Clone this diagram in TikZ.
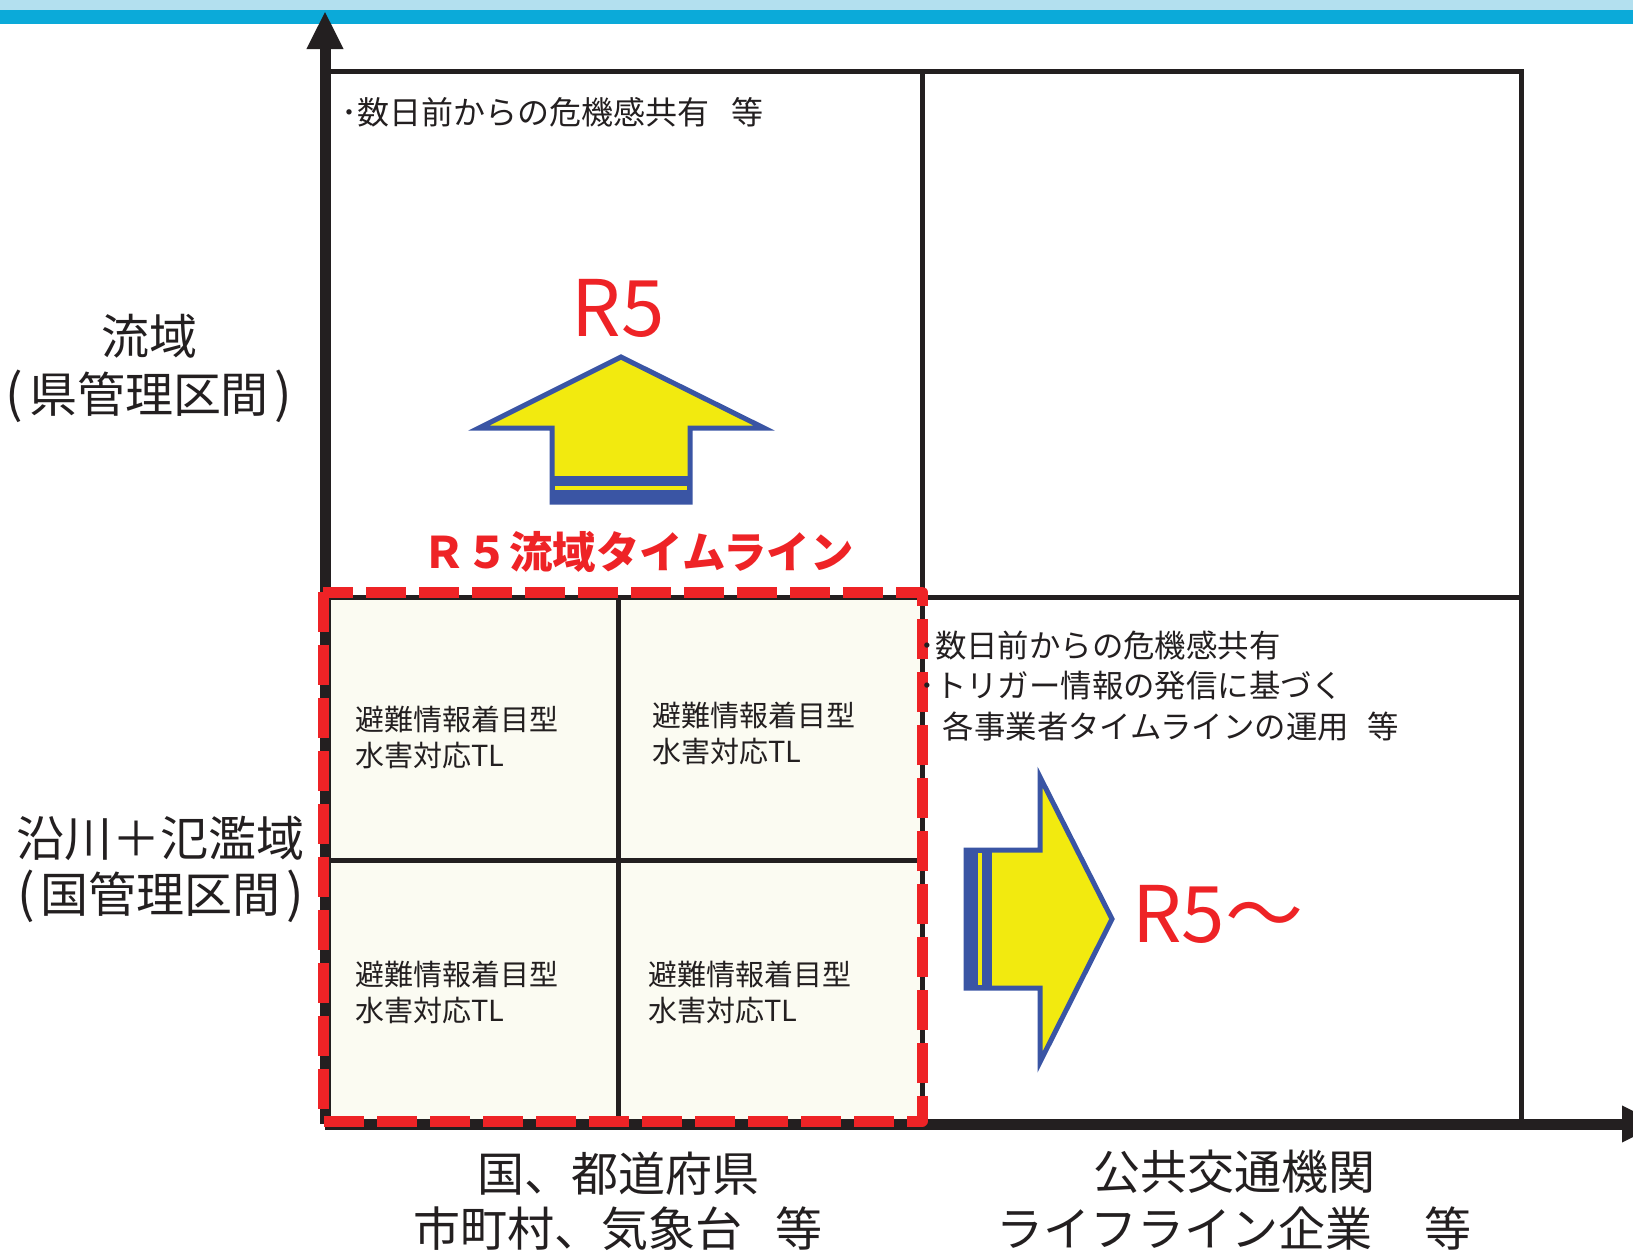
\documentclass[tikz,border=0pt]{standalone}
\usepackage{fontspec}
\setmainfont{Noto Sans CJK JP}
\usetikzlibrary{arrows.meta}
\definecolor{barlight}{HTML}{B3E0EF}
\definecolor{bardark}{HTML}{0BAAD9}
\definecolor{gridblack}{HTML}{231F20}
\definecolor{tlred}{HTML}{EE2326}
\definecolor{arrblue}{HTML}{3A55A4}
\definecolor{arryellow}{HTML}{F2EA0F}
\definecolor{cream}{HTML}{FBFBF2}
\newcommand{\lpar}{{\fontsize{26pt}{26pt}\selectfont (}\hspace{0.12em}}
\newcommand{\rpar}{\hspace{0.12em}{\fontsize{26pt}{26pt}\selectfont )}}
\tikzset{
  gridline/.style={line width=2.5pt, draw=gridblack},
  axisline/.style={line width=5.5pt, draw=gridblack, -{Triangle[length=19pt,width=17pt]}},
  redbox/.style={draw=tlred, line width=5.5pt, dash pattern=on 20pt off 6.5pt, line join=round},
  bigarrow/.style={draw=arrblue, fill=arryellow, line width=2.5pt, line join=miter},
  celltxt/.style={font=\fontsize{14.5pt}{18pt}\selectfont, align=left, anchor=west, inner sep=0pt, text=gridblack},
  notetxt/.style={font=\fontsize{16pt}{20.25pt}\selectfont, align=left, anchor=west, inner sep=0pt, text=gridblack},
  sidelbl/.style={font=\fontsize{24pt}{24pt}\selectfont, inner sep=0pt, text=gridblack},
  botlbl/.style={font=\fontsize{23.5pt}{23.5pt}\selectfont, inner sep=0pt, text=gridblack},
  bigred/.style={font=\fontsize{39pt}{39pt}\selectfont, inner sep=0pt, text=tlred},
}
\begin{document}
\begin{tikzpicture}[x=0.5pt,y=-0.5pt]
\useasboundingbox (0,0) rectangle (1633,1253);
% top bar
\fill[barlight] (0,0) rectangle (1633,10);
\fill[bardark] (0,10) rectangle (1633,24);
% coordinates
\coordinate (o) at (325,1124);
\coordinate (tl) at (325,71);
\coordinate (tr) at (1521,71);
\coordinate (br) at (1521,1124);
\coordinate (mt) at (922,71);
\coordinate (mb) at (922,1124);
\coordinate (ml) at (325,597);
\coordinate (mr) at (1521,597);
\coordinate (it) at (618,597);
\coordinate (ib) at (618,1124);
\coordinate (il) at (325,860);
\coordinate (ir) at (922,860);
% cream fill
\fill[cream] (ml) rectangle (mb);
% grid
\draw[gridline] (tl) -- (tr) -- (br);
\draw[gridline] (mt) -- (mb);
\draw[gridline] (ml) -- (mr);
\draw[gridline] (it) -- (ib);
\draw[gridline] (il) -- (ir);
% axes
\coordinate (ytip) at (325,11);
\coordinate (xtip) at (1660,1124);
\draw[axisline] (o) -- (ytip);
\draw[axisline] (o) -- (xtip);
% red dashed box
\draw[redbox] (323,592) rectangle (922,1121);
% up arrow
\draw[bigarrow] (621,357) -- (764,428) -- (690,428) -- (690,502) -- (552,502) -- (552,428) -- (479,428) -- cycle;
\fill[arrblue] (550,476) rectangle (692,504);
\fill[arryellow] (555,486) rectangle (687,490);
% right arrow
\draw[bigarrow] (1112,919) -- (1040,1062) -- (1040,988) -- (966,988) -- (966,850) -- (1040,850) -- (1040,777) -- cycle;
\fill[arrblue] (964,848) rectangle (992,990);
\fill[arryellow] (978,853) rectangle (982,985);
% texts
\node[notetxt] (n1) at (341,112) {･数日前からの危機感共有\hspace{0.7em}等};
\node[notetxt, font=\fontsize{15.7pt}{20.25pt}\selectfont] (n2) at (919,686) {･数日前からの危機感共有\\･トリガー情報の発信に基づく\\\hspace*{0.75em}各事業者タイムラインの運用\hspace{0.6em}等};
\node[bigred, anchor=base] (r5a) at (618,336) {R5};
\node[bigred, anchor=base west] (r5b) at (1132,942) {R5～};
\node[font=\bfseries\fontsize{21.7pt}{21.7pt}\selectfont, text=tlred, inner sep=0pt, anchor=base] (title) at (638,568) {Ｒ５流域タイムライン};
\node[celltxt] (c1) at (355,737) {避難情報着目型\\水害対応TL};
\node[celltxt] (c2) at (652,733) {避難情報着目型\\水害対応TL};
\node[celltxt] (c3) at (355,992) {避難情報着目型\\水害対応TL};
\node[celltxt] (c4) at (648,992) {避難情報着目型\\水害対応TL};
\node[sidelbl] (l1) at (149,336) {流域};
\node[sidelbl] (l2) at (149,396) {\lpar 県管理区間\rpar};
\node[sidelbl] (l3) at (161,838) {沿川＋氾濫域};
\node[sidelbl] (l4) at (161,896) {\lpar 国管理区間\rpar};
\node[botlbl] (b1) at (618,1174) {国、都道府県};
\node[botlbl] (b2) at (618,1229) {市町村、気象台\hspace{0.7em}等};
\node[botlbl] (b3) at (1234,1172) {公共交通機関};
\node[botlbl] (b4) at (1234,1229) {ライフライン企業\hspace{1.1em}等};
\end{tikzpicture}
\end{document}
